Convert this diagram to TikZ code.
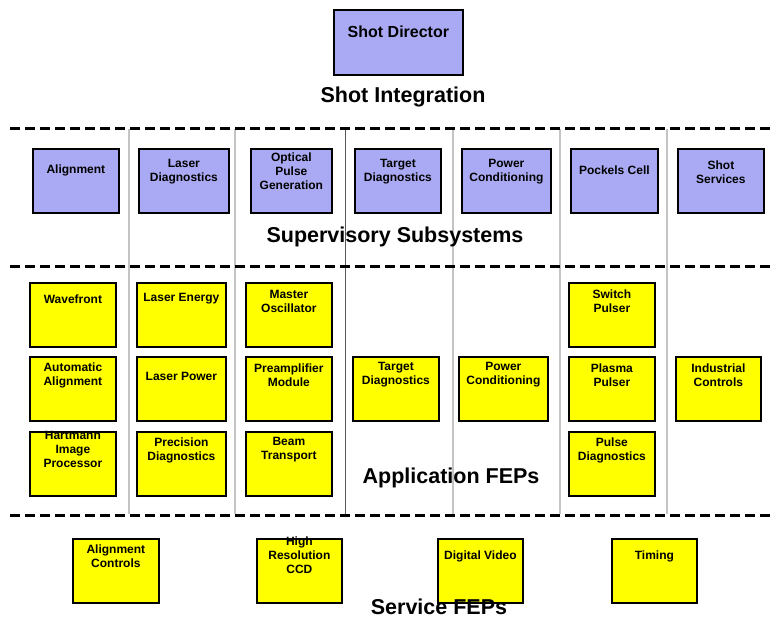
\documentclass[tikz,border=0pt]{standalone}
\usepackage{fontspec}
\setmainfont{Liberation Sans}
\definecolor{supblue}{HTML}{AAAAF4}
\definecolor{fepyellow}{HTML}{FFFF00}
\definecolor{colgray}{HTML}{C4C4C4}

\tikzset{
  ubox/.style={draw=black, line width=1.8pt, inner sep=0pt, anchor=north west},
  utext/.style={font=\bfseries\fontsize{12}{14}\selectfont, align=center, inner sep=0pt, anchor=center},
  tiertitle/.style={font=\bfseries\fontsize{21.5}{25}\selectfont, inner sep=0pt, anchor=base},
  tierline/.style={line width=3pt, dash pattern=on 10pt off 5pt},
  colline/.style={draw=colgray, line width=2.5pt}
}

% \unitbox{name}{fill}{x1}{y1}{x2}{y2}{text offset from top}{text}
\newcommand\unitbox[8]{%
  \node[ubox, fill=#2, minimum width={(#5-#3)*1pt}, minimum height={(#6-#4)*1pt}] (#1) at (#3,#4) {};
  \node[utext] (#1-t) at ([yshift=-#7pt]#1.north) {#8};
}

\begin{document}
\begin{tikzpicture}[x=1pt, y=-1pt]
  \useasboundingbox (0,0) rectangle (775,618);
  \fill[white] (0,0) rectangle (775,618);

  % column separators
  \foreach \cx in {129,235,453,560,667}
    \draw[colline] (\cx,129) -- (\cx,514);
  \draw[gray!70!black, line width=0.8pt] (345,127) -- (345,514);

  % tier separators
  \foreach \ty in {128,266,515}
    \draw[tierline] (10,\ty) -- (775,\ty);

  % shot integration
  \unitbox{sd}{supblue}{333}{9}{462}{74}{23}{\fontsize{16}{18}\selectfont Shot Director}
  \node[tiertitle] (tsi) at (403,102) {Shot Integration};

  % supervisory subsystems
  \unitbox{s1}{supblue}{32}{148}{118}{212}{22}{Alignment}
  \unitbox{s2}{supblue}{138}{148}{228}{212}{24}{Laser\\Diagnostics}
  \unitbox{s3}{supblue}{250}{148}{331}{212}{23}{Optical\\Pulse\\Generation}
  \unitbox{s4}{supblue}{354}{148}{440}{212}{24}{Target\\Diagnostics}
  \unitbox{s5}{supblue}{461}{148}{550}{212}{24}{Power\\Conditioning}
  \unitbox{s6}{supblue}{570}{148}{657}{212}{22}{Pockels Cell}
  \unitbox{s7}{supblue}{677}{148}{763}{212}{24}{Shot\\Services}
  \node[tiertitle] (tss) at (395,242) {Supervisory Subsystems};

  % application front-end processors
  \unitbox{a11}{fepyellow}{29}{282}{115}{346}{17}{Wavefront}
  \unitbox{a12}{fepyellow}{29}{356}{115}{420}{19}{Automatic\\Alignment}
  \unitbox{a13}{fepyellow}{29}{431}{115}{495}{18}{Hartmann\\Image\\Processor}
  \unitbox{a21}{fepyellow}{136}{282}{225}{346}{17}{Laser Energy}
  \unitbox{a22}{fepyellow}{136}{356}{225}{420}{20}{Laser Power}
  \unitbox{a23}{fepyellow}{136}{431}{225}{495}{19}{Precision\\Diagnostics}
  \unitbox{a31}{fepyellow}{245}{282}{331}{346}{19}{Master\\Oscillator}
  \unitbox{a32}{fepyellow}{245}{356}{331}{420}{19}{Preamplifier\\Module}
  \unitbox{a33}{fepyellow}{245}{431}{331}{495}{19}{Beam\\Transport}
  \unitbox{a42}{fepyellow}{352}{356}{438}{420}{19}{Target\\Diagnostics}
  \unitbox{a52}{fepyellow}{458}{356}{547}{420}{19}{Power\\Conditioning}
  \unitbox{a61}{fepyellow}{568}{282}{654}{346}{19}{Switch\\Pulser}
  \unitbox{a62}{fepyellow}{568}{356}{654}{420}{19}{Plasma\\Pulser}
  \unitbox{a63}{fepyellow}{568}{431}{654}{495}{19}{Pulse\\Diagnostics}
  \unitbox{a72}{fepyellow}{675}{356}{760}{420}{19}{Industrial\\Controls}
  \node[tiertitle] (taf) at (451,483) {Application FEPs};

  % service front-end processors
  \unitbox{v1}{fepyellow}{72}{538}{158}{602}{18}{Alignment\\Controls}
  \unitbox{v2}{fepyellow}{256}{538}{341}{602}{17}{High\\Resolution\\CCD}
  \unitbox{v3}{fepyellow}{437}{538}{522}{602}{18}{Digital Video}
  \unitbox{v4}{fepyellow}{611}{538}{696}{602}{18}{Timing}
  \node[tiertitle] (tsf) at (439,614) {Service FEPs};
\end{tikzpicture}
\end{document}
